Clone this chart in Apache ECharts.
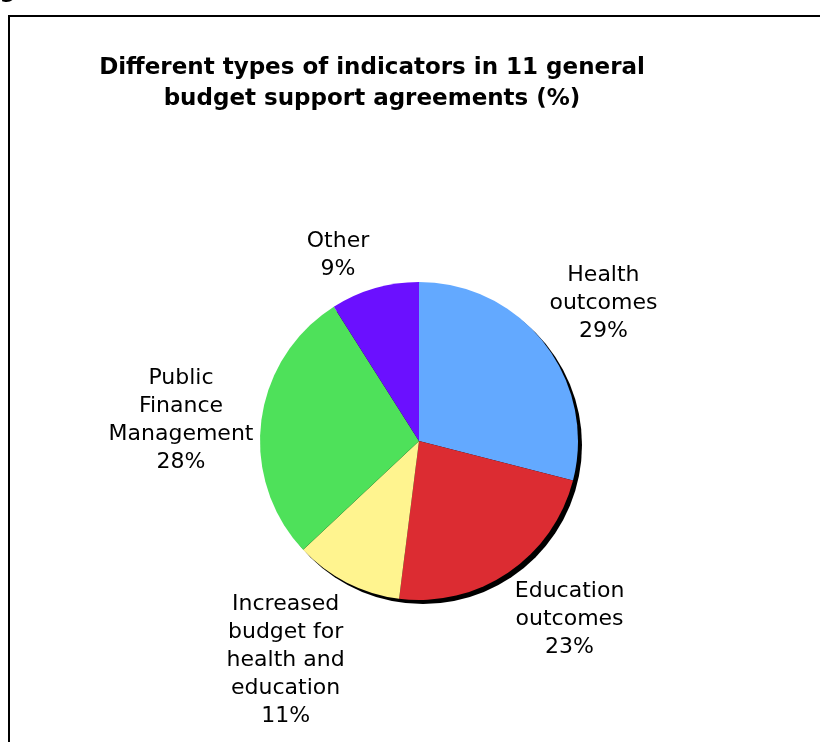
<html>
<head>
<meta charset="utf-8">
<title>indicators</title>
<script src="https://cdn.jsdelivr.net/npm/echarts@6/dist/echarts.min.js"></script>
</head>
<body style="margin:0">
<div id="main" style="width:820px;height:742px;"></div>
<script type="text/javascript">
// data
var categories = ['Health\noutcomes', 'Education\noutcomes', 'Increased\nbudget for\nhealth and\neducation', 'Public\nFinance\nManagement', 'Other'];
var shares = [29, 23, 11, 28, 9];
var colors = ['#63A9FF', '#DC2C32', '#FFF48F', '#4EE15A', '#6B10FF'];

var cx = 419, cy = 441, R = 159;
var labelFont = '22px "DejaVu Sans"';
var lineH = 28;
// small hand tweaks so labels sit where the original put them
var labelNudge = [[0, 5], [21, -12], [-18, -7], [4, 10], [-25, 7]];
var total = shares.reduce(function (a, b) { return a + b; }, 0);

// mid angle of each slice (clockwise from 12 o'clock)
function midAngle(i) {
    var acc = 0;
    for (var k = 0; k < i; k++) acc += shares[k];
    return (acc + shares[i] / 2) / total * Math.PI * 2;
}

// size of a label block
var ctx = document.createElement('canvas').getContext('2d');
ctx.font = labelFont;
function labelSize(i) {
    var lines = (categories[i] + '\n' + shares[i] + '%').split('\n');
    var w = 0;
    lines.forEach(function (l) { w = Math.max(w, ctx.measureText(l).width); });
    return { w: w, h: lines.length * lineH };
}

var myChart = echarts.init(document.getElementById('main'));

var option = {
    backgroundColor: '#fff',
    animation: false,
    title: {
        text: 'Different types of indicators in 11 general\nbudget support agreements (%)',
        left: 367,
        top: 48,
        textAlign: 'center',
        textStyle: {
            fontFamily: 'DejaVu Sans',
            fontWeight: 'bold',
            fontSize: 23,
            lineHeight: 31,
            color: '#000'
        }
    },
    graphic: [
        {
            type: 'rect',
            shape: { x: 9, y: 16, width: 1000, height: 1000 },
            style: { fill: null, stroke: '#000', lineWidth: 2 },
            silent: true
        },
        {
            type: 'text',
            x: -16,
            y: -20,
            style: {
                text: 'agreements',
                font: 'bold 23px "DejaVu Sans"',
                fill: '#000'
            },
            silent: true
        }
    ],
    series: [
        {
            // shadow behind the pie
            type: 'pie',
            silent: true,
            center: [cx + 4, cy + 4],
            radius: R,
            label: { show: false },
            labelLine: { show: false },
            itemStyle: { color: '#000' },
            data: [{ value: 1, name: 'shadow' }]
        },
        {
            type: 'pie',
            center: [cx, cy],
            radius: R,
            startAngle: 90,
            clockwise: true,
            itemStyle: { borderWidth: 0 },
            labelLine: { show: false },
            label: {
                show: true,
                position: 'outside',
                formatter: function (p) { return p.name + '\n' + p.value + '%'; },
                fontFamily: 'DejaVu Sans',
                fontSize: 22,
                lineHeight: lineH,
                color: '#000',
                align: 'center'
            },
            labelLayout: function (params) {
                var i = params.dataIndex;
                var a = midAngle(i);
                var dx = Math.sin(a), dy = -Math.cos(a);
                var s = labelSize(i);
                var d = R + 6 + Math.abs(dx) * s.w / 2 + Math.abs(dy) * s.h / 2;
                return {
                    x: cx + dx * d + labelNudge[i][0],
                    y: cy + dy * d + labelNudge[i][1],
                    align: 'center',
                    verticalAlign: 'middle'
                };
            },
            data: categories.map(function (c, i) {
                return { value: shares[i], name: c, itemStyle: { color: colors[i] } };
            })
        }
    ]
};

myChart.setOption(option);
</script>
</body>
</html>
